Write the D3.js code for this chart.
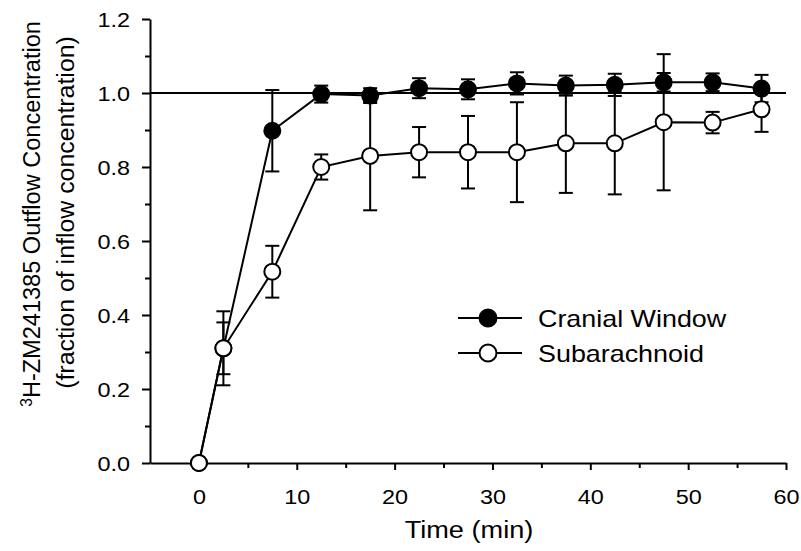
<!DOCTYPE html>
<html>
<head>
<meta charset="utf-8">
<script src="https://cdn.jsdelivr.net/npm/d3@7"></script>
<style>
  html, body { margin: 0; padding: 0; background: #fff; }
  svg { display: block; font-family: "Liberation Sans", Arial, sans-serif; }
</style>
</head>
<body>
<svg id="chart" width="801" height="551"></svg>
<script>
// ---- data ----
const time = [0, 2.5, 7.5, 12.5, 17.5, 22.5, 27.5, 32.5, 37.5, 42.5, 47.5, 52.5, 57.5];
const cranialWindow = [0, 0.31, 0.898, 0.997, 0.993, 1.013, 1.01, 1.026, 1.02, 1.022, 1.029, 1.029, 1.012];
const cranialWindowErr = [0, 0.07, 0.11, 0.023, 0.02, 0.027, 0.027, 0.03, 0.027, 0.03, 0.025, 0.024, 0.037];
const subarachnoid = [0, 0.31, 0.517, 0.80, 0.83, 0.84, 0.84, 0.84, 0.864, 0.864, 0.921, 0.92, 0.956];
const subarachnoidErr = [0, 0.10, 0.07, 0.034, 0.147, 0.068, 0.098, 0.135, 0.134, 0.138, 0.184, 0.029, 0.061];
const seriesNames = ["Cranial Window", "Subarachnoid"];
const xTicks = [0, 10, 20, 30, 40, 50, 60];
const yTicks = [0, 0.2, 0.4, 0.6, 0.8, 1.0, 1.2];
const referenceValue = 1.0;

const svg = d3.select("#chart");
const x = d3.scaleLinear().domain([-5, 60]).range([150, 786]);
const y = d3.scaleLinear().domain([0, 1.2]).range([463, 19]);

function stretch(sel, k = 1.17) {
  sel.each(function () {
    const w = this.getComputedTextLength();
    this.setAttribute("textLength", w * k);
    this.setAttribute("lengthAdjust", "spacingAndGlyphs");
  });
}

// reference line at 1.0
svg.append("line")
  .attr("x1", x(-5)).attr("x2", x(60))
  .attr("y1", y(referenceValue)).attr("y2", y(referenceValue))
  .attr("stroke", "#000").attr("stroke-width", 2);

// axes: minor ticks
svg.append("g").attr("transform", `translate(${x(-5)},0)`)
  .call(d3.axisLeft(y).tickValues(d3.range(0.1, 1.2, 0.2)).tickSize(5).tickFormat(""))
  .call(g => g.select(".domain").remove())
  .selectAll("line").attr("stroke-width", 2);
svg.append("g").attr("transform", `translate(0,${y(0)})`)
  .call(d3.axisBottom(x).tickValues(d3.range(5, 60, 10)).tickSize(5).tickFormat(""))
  .call(g => g.select(".domain").remove())
  .selectAll("line").attr("stroke-width", 2);

// major axes
const yAxis = svg.append("g").attr("transform", `translate(${x(-5)},0)`)
  .call(d3.axisLeft(y).tickValues(yTicks).tickSize(8).tickSizeOuter(0).tickPadding(12)
    .tickFormat(d3.format(".1f")));
yAxis.select(".domain").attr("stroke-width", 2);
yAxis.selectAll("line").attr("stroke-width", 2);
yAxis.selectAll("text").attr("font-size", 20).attr("fill", "#000")
  .attr("font-family", "Liberation Sans, Arial, sans-serif").attr("dy", "0.36em");
yAxis.selectAll("text").call(stretch);

const xAxis = svg.append("g").attr("transform", `translate(0,${y(0)})`)
  .call(d3.axisBottom(x).tickValues(xTicks).tickSize(7).tickSizeOuter(0).tickPadding(20));
xAxis.select(".domain").attr("stroke-width", 2);
xAxis.selectAll("line").attr("stroke-width", 2);
xAxis.selectAll("text").attr("font-size", 20).attr("fill", "#000")
  .attr("font-family", "Liberation Sans, Arial, sans-serif");
xAxis.selectAll("text").call(stretch);

// axis titles
const xt = svg.append("text").attr("x", 469).attr("y", 538).attr("text-anchor", "middle")
  .attr("font-size", 23).text("Time (min)");
xt.call(stretch, 1.18);

function fitRotated(textSel, cx, cy, target) {
  const w = textSel.node().getComputedTextLength();
  const k = target / w;
  textSel.attr("transform", `translate(${cx},${cy}) rotate(-90) scale(${k},1)`);
}

const yt1 = svg.append("text").attr("text-anchor", "middle").attr("font-size", 24);
yt1.append("tspan").attr("font-size", 16).attr("dy", "-8").text("3");
yt1.append("tspan").attr("dy", "8").text("H-ZM241385 Outflow Concentration");
fitRotated(yt1, 39.5, 214, 386);

const yt2 = svg.append("text").attr("text-anchor", "middle").attr("font-size", 24)
  .text("(fraction of inflow concentration)");
fitRotated(yt2, 73.5, 212.5, 353);

// series
const series = [
  { name: seriesNames[0], vals: cranialWindow, errs: cranialWindowErr, fill: "#000" },
  { name: seriesNames[1], vals: subarachnoid, errs: subarachnoidErr, fill: "#fff" }
];
const line = d3.line().x(d => x(d.t)).y(d => y(d.v));
const R = 8;

series.forEach(s => {
  const pts = time.map((t, i) => ({ t, v: s.vals[i], e: s.errs[i] }));
  const g = svg.append("g");
  const eb = g.selectAll("g.eb").data(pts.filter(p => p.e > 0)).join("g");
  eb.append("line").attr("x1", d => x(d.t)).attr("x2", d => x(d.t))
    .attr("y1", d => y(d.v - d.e)).attr("y2", d => y(d.v + d.e))
    .attr("stroke", "#000").attr("stroke-width", 2);
  [1, -1].forEach(sgn => {
    eb.append("line").attr("x1", d => x(d.t) - 7).attr("x2", d => x(d.t) + 7)
      .attr("y1", d => y(d.v + sgn * d.e)).attr("y2", d => y(d.v + sgn * d.e))
      .attr("stroke", "#000").attr("stroke-width", 2);
  });
  g.append("path").datum(pts).attr("d", line).attr("fill", "none")
    .attr("stroke", "#000").attr("stroke-width", 2);
  g.selectAll("circle").data(pts).join("circle")
    .attr("cx", d => x(d.t)).attr("cy", d => y(d.v)).attr("r", R)
    .attr("fill", s.fill).attr("stroke", "#000").attr("stroke-width", 2);
});

// legend
const legendY = [318, 353];
const legendWidths = [189, 164];
series.forEach((s, i) => {
  const g = svg.append("g");
  g.append("line").attr("x1", 458).attr("x2", 522).attr("y1", legendY[i]).attr("y2", legendY[i])
    .attr("stroke", "#000").attr("stroke-width", 2);
  g.append("circle").attr("cx", 488).attr("cy", legendY[i]).attr("r", 8.5)
    .attr("fill", s.fill).attr("stroke", "#000").attr("stroke-width", 2);
  const t = g.append("text").attr("x", 538).attr("y", legendY[i] + 8.5)
    .attr("font-size", 24).text(s.name);
  t.call(stretch, 1.12);
});
</script>
</body>
</html>
